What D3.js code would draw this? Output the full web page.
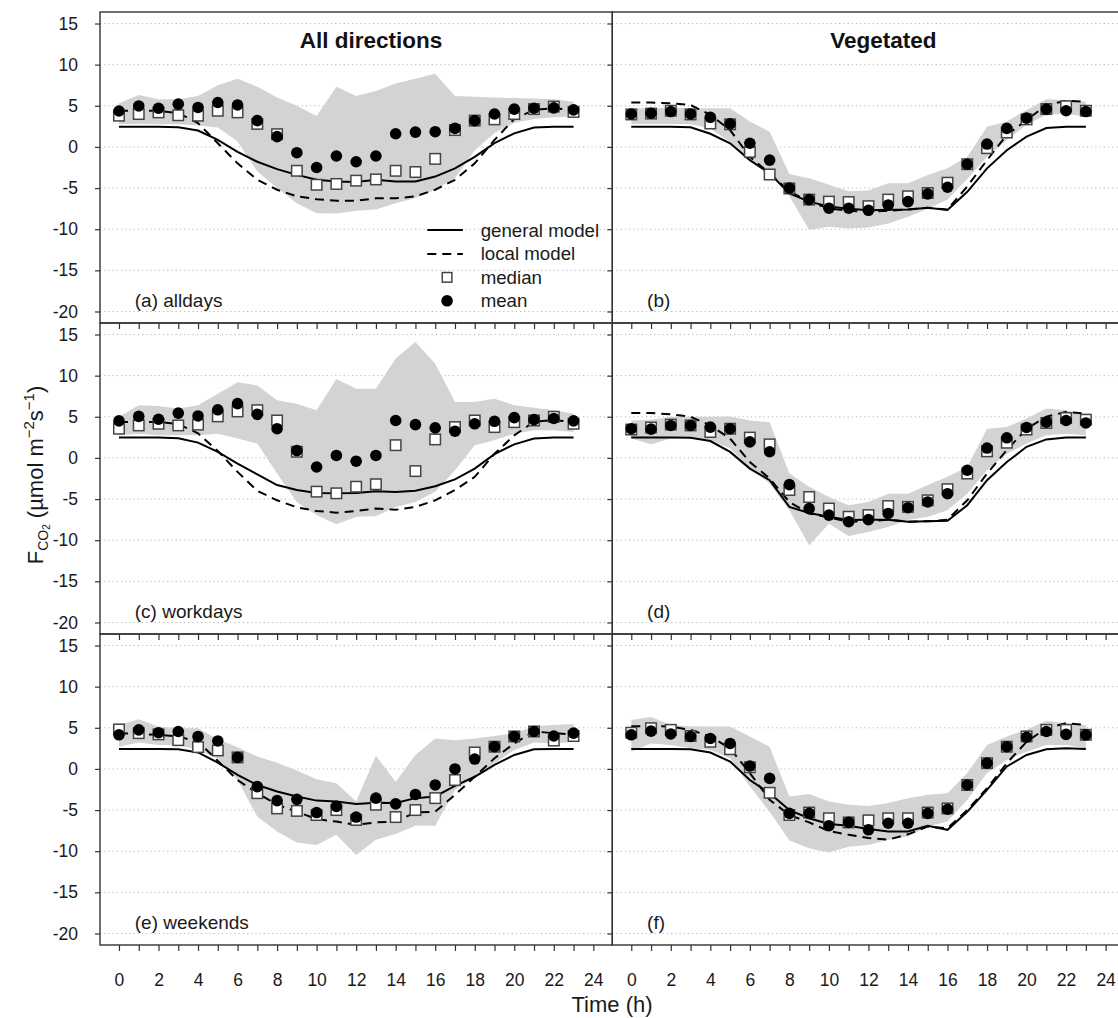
<!DOCTYPE html>
<html lang="en">
<head>
<meta charset="UTF-8">
<title>FCO2 diurnal cycles</title>
<script src="https://d3js.org/d3.v7.min.js"></script>
<style>
  body { margin: 0; background: #fff; }
  svg { display: block; font-family: "Liberation Sans", Arial, sans-serif; }
  .grid line { stroke: #b8b8b8; stroke-width: 1; stroke-dasharray: 1.2,3; }
  .axis line { stroke: #333; stroke-width: 1.2; }
  .axis text { font-size: 17.5px; fill: #1a1a1a; }
  .frame { fill: none; stroke: #333; stroke-width: 1.4; }
  .band { fill: #d3d3d3; }
  .general { fill: none; stroke: #000; stroke-width: 2; }
  .local { fill: none; stroke: #000; stroke-width: 2; stroke-dasharray: 9,6; }
  .median { fill: #fff; stroke: #444; stroke-width: 1.5; }
  .mean { fill: #000; }
</style>
</head>
<body>
<svg id="chart" width="1118" height="1018"></svg>
<script>
const hours = d3.range(24);
const xTicks = d3.range(0, 25);
const yTicks = [-20, -15, -10, -5, 0, 5, 10, 15];
const columnTitles = ["All directions", "Vegetated"];
const panelLabels = ["(a) alldays", "(b)", "(c) workdays", "(d)", "(e) weekends", "(f)"];
const legendLabels = ["general model", "local model", "median", "mean"];

// (a) all directions, all days
const aGeneral = [2.45,2.45,2.45,2.4,2.0,0.85,-0.6,-1.8,-2.7,-3.4,-4.0,-4.2,-4.25,-4.0,-4.2,-4.2,-3.6,-2.6,-1.2,0.45,1.65,2.35,2.45,2.45];
const aLocal   = [4.4,4.4,4.4,4.1,2.9,0.45,-2.0,-4.0,-5.2,-6.0,-6.35,-6.55,-6.55,-6.25,-6.25,-6.0,-5.2,-4.0,-2.0,0.85,3.4,4.5,4.7,4.5];
const aMedian  = [3.8,4.0,4.2,3.85,3.8,4.4,4.2,2.8,1.55,-2.9,-4.6,-4.5,-4.1,-3.95,-2.9,-3.05,-1.45,2.05,3.2,3.35,4.0,4.6,4.9,4.25];
const aMean    = [4.37,4.98,4.7,5.2,4.8,5.4,5.1,3.2,1.25,-0.7,-2.5,-1.1,-1.8,-1.1,1.6,1.8,1.85,2.25,3.2,4.0,4.6,4.7,4.75,4.5];
const aHi      = [5.3,6.3,5.8,5.8,6.2,7.5,8.3,7.3,6.0,5.0,3.75,7.3,6.2,6.8,7.7,8.3,8.9,6.2,6.1,6.0,5.95,5.9,5.8,5.5];
const aLo      = [2.8,2.8,2.75,2.75,2.6,2.35,0.65,-3.0,-5.0,-6.85,-8.05,-8.1,-7.75,-7.6,-6.85,-6.2,-5.2,-3.8,-0.4,1.7,2.95,3.4,3.6,3.7];

// (b) vegetated, all days
const bGeneral = [2.45,2.45,2.45,2.4,1.6,0.45,-1.6,-3.2,-5.65,-6.65,-7.25,-7.5,-7.7,-7.65,-7.6,-7.4,-7.65,-5.45,-2.6,-0.4,1.25,2.3,2.45,2.45];
const bLocal   = [5.4,5.4,5.3,5.1,3.9,2.05,-1.2,-3.2,-5.4,-6.65,-7.5,-7.75,-7.9,-7.75,-7.6,-7.4,-7.6,-4.8,-1.6,1.45,3.25,5.1,5.6,5.5];
const bMedian  = [3.95,4.05,4.4,3.95,2.85,2.75,-0.6,-3.35,-5.05,-6.4,-6.65,-6.7,-7.2,-6.4,-6.0,-5.6,-4.35,-2.1,-0.15,1.75,3.35,4.6,4.95,4.4];
const bMean    = [4.0,4.1,4.3,4.0,3.6,2.8,0.45,-1.6,-5.0,-6.4,-7.45,-7.45,-7.7,-7.05,-6.65,-5.7,-4.9,-2.1,0.35,2.25,3.5,4.6,4.4,4.3];
const bHi      = [4.7,4.7,4.8,4.7,4.7,4.7,3.1,1.85,-3.3,-3.8,-4.6,-5.4,-5.3,-4.4,-4.4,-3.4,-2.6,-1.2,2.45,3.1,4.5,5.8,5.7,5.5];
const bLo      = [2.8,2.8,2.8,2.8,2.2,0.6,-1.4,-3.2,-6.0,-10.1,-9.7,-9.9,-9.8,-9.3,-8.5,-7.5,-6.4,-3.9,-1.2,0.85,2.7,3.9,4.0,3.7];

// (c) all directions, workdays
const cGeneral = [2.47,2.47,2.47,2.4,1.86,0.73,-0.7,-2.0,-3.3,-3.9,-4.25,-4.3,-4.25,-4.05,-4.15,-4.0,-3.45,-2.6,-1.3,0.45,1.65,2.35,2.47,2.47];
const cLocal   = [4.37,4.37,4.37,4.1,3.0,0.85,-1.7,-4.0,-5.15,-6.0,-6.45,-6.65,-6.45,-6.15,-6.3,-5.95,-5.15,-3.9,-2.3,0.5,2.75,4.4,4.6,4.4];
const cMedian  = [3.55,3.95,4.15,3.95,4.05,5.05,5.65,5.8,4.55,0.75,-4.1,-4.3,-3.5,-3.2,1.55,-1.6,2.25,3.75,4.55,3.75,4.35,4.55,5.0,4.15];
const cMean    = [4.5,5.05,4.7,5.45,5.1,5.85,6.6,5.3,3.55,0.9,-1.1,0.3,-0.4,0.3,4.55,4.05,3.65,3.25,4.15,4.45,4.9,4.65,4.8,4.5];
const cHi      = [5.0,6.4,6.3,6.0,6.4,7.8,9.2,8.8,7.0,6.6,5.8,9.6,8.4,8.4,12.1,14.1,11.45,6.8,6.8,7.2,6.4,6.1,5.8,5.4];
const cLo      = [2.75,2.95,2.75,2.75,2.75,2.95,2.35,1.75,-1.9,-5.35,-6.95,-8.05,-7.15,-7.1,-5.95,-5.35,-4.1,-1.5,1.55,2.15,2.95,3.35,3.35,3.15];

// (d) vegetated, workdays
const dGeneral = [2.47,2.47,2.47,2.45,2.05,0.73,-1.3,-2.7,-5.95,-6.7,-7.15,-7.55,-7.5,-7.5,-7.75,-7.7,-7.65,-5.75,-2.7,-0.5,1.35,2.25,2.47,2.47];
const dLocal   = [5.45,5.45,5.3,5.0,3.95,2.35,-0.5,-2.5,-5.35,-6.75,-7.25,-7.75,-7.7,-7.5,-7.75,-7.7,-7.5,-5.15,-1.9,0.95,3.55,5.0,5.6,5.4];
const dMedian  = [3.45,3.7,4.05,3.95,3.15,3.55,2.47,1.65,-3.9,-4.75,-6.15,-7.15,-6.95,-5.85,-5.95,-5.15,-3.8,-1.9,0.8,1.85,3.45,4.25,4.85,4.65];
const dMean    = [3.55,3.5,3.95,3.95,3.75,3.55,1.95,0.75,-3.25,-6.15,-6.95,-7.75,-7.5,-6.75,-6.05,-5.35,-4.35,-1.5,1.2,2.45,3.7,4.35,4.55,4.25];
const dHi      = [4.55,4.65,5.0,5.0,5.0,5.05,4.55,4.35,-1.9,-3.5,-4.75,-5.75,-5.35,-4.35,-4.35,-3.3,-2.3,-1.1,3.55,3.75,4.8,6.0,5.8,5.2];
const dLo      = [2.35,1.65,2.35,2.55,2.15,1.15,-1.3,-3.1,-6.35,-10.6,-8.0,-9.5,-9.0,-8.4,-7.55,-7.15,-6.35,-4.35,-1.5,0.5,1.75,2.75,2.95,2.75];

// (e) all directions, weekends
const eGeneral = [2.43,2.43,2.43,2.4,2.0,0.77,-0.73,-1.95,-2.75,-3.35,-3.85,-3.95,-4.25,-4.1,-4.15,-3.55,-3.35,-2.05,-0.95,0.5,1.7,2.4,2.43,2.43];
const eLocal   = [4.35,4.25,4.15,3.95,3.3,1.0,-1.35,-2.95,-4.35,-5.2,-6.1,-6.4,-6.8,-6.5,-6.4,-5.3,-5.2,-3.15,-0.95,1.3,3.1,4.55,4.35,4.15];
const eMedian  = [4.8,4.35,4.2,3.5,2.65,2.25,1.4,-2.95,-4.8,-5.1,-5.6,-5.0,-6.2,-4.35,-5.85,-5.0,-3.55,-1.35,2.0,2.7,3.95,4.55,3.45,4.0];
const eMean    = [4.15,4.75,4.4,4.55,3.95,3.4,1.4,-2.15,-3.85,-3.7,-5.3,-4.55,-5.85,-3.55,-4.25,-3.1,-1.95,0.0,1.2,2.7,3.95,4.55,4.0,4.35];
const eHi      = [5.35,6.05,5.15,4.95,4.95,3.6,2.65,1.5,0.75,-0.2,-1.25,-1.75,-3.95,1.6,-1.55,1.7,3.7,3.5,3.7,4.0,4.35,5.2,5.35,5.45];
const eLo      = [2.7,3.2,2.9,2.9,2.3,1.3,-1.35,-5.8,-7.6,-8.95,-9.25,-8.0,-10.45,-8.6,-7.9,-6.9,-6.9,-2.55,-0.95,0.7,2.3,3.2,3.1,3.3];

// (f) vegetated, weekends
const fGeneral = [2.43,2.43,2.43,2.4,2.0,0.9,-1.35,-2.95,-5.0,-6.0,-6.7,-6.9,-7.3,-7.6,-7.6,-6.9,-7.4,-5.2,-2.55,0.3,1.7,2.4,2.5,2.43];
const fLocal   = [5.2,5.2,5.15,4.75,3.95,2.5,-0.5,-3.75,-5.6,-6.5,-7.55,-8.0,-8.4,-8.6,-7.95,-7.0,-7.2,-5.0,-2.35,0.7,3.3,4.95,5.55,5.35];
const fMedian  = [4.4,4.95,4.75,4.0,3.3,2.4,0.2,-2.9,-5.6,-5.3,-6.0,-6.5,-6.25,-6.0,-6.0,-5.3,-4.8,-1.95,0.7,2.7,3.95,4.75,4.75,4.15];
const fMean    = [4.15,4.6,4.25,3.95,3.7,3.1,0.35,-1.15,-5.4,-5.4,-6.9,-6.5,-7.4,-6.6,-6.6,-5.4,-4.9,-1.95,0.7,2.7,3.85,4.55,4.2,4.15];
const fHi      = [5.95,6.3,5.35,5.2,5.15,5.15,3.95,2.7,-3.35,-3.05,-3.95,-4.35,-4.5,-4.15,-3.55,-3.15,-2.95,-0.5,2.9,3.95,4.8,5.85,5.55,5.35];
const fLo      = [2.1,3.1,2.9,2.5,2.3,1.3,-2.15,-5.2,-8.7,-9.65,-10.15,-9.45,-9.25,-8.6,-8.2,-7.0,-6.4,-3.75,-0.5,1.1,2.1,2.9,2.9,2.5];

const panels = [
  { row: 0, col: 0, general: aGeneral, local: aLocal, median: aMedian, mean: aMean, hi: aHi, lo: aLo },
  { row: 0, col: 1, general: bGeneral, local: bLocal, median: bMedian, mean: bMean, hi: bHi, lo: bLo },
  { row: 1, col: 0, general: cGeneral, local: cLocal, median: cMedian, mean: cMean, hi: cHi, lo: cLo },
  { row: 1, col: 1, general: dGeneral, local: dLocal, median: dMedian, mean: dMean, hi: dHi, lo: dLo },
  { row: 2, col: 0, general: eGeneral, local: eLocal, median: eMedian, mean: eMean, hi: eHi, lo: eLo },
  { row: 2, col: 1, general: fGeneral, local: fLocal, median: fMedian, mean: fMean, hi: fHi, lo: fLo }
];

// layout (R style: axes padded by 4%)
const colX = [[100, 612.3], [612.3, 1124.6]];
const rowY = [[12, 323], [323, 634], [634, 945]];
const xDom = [-0.96, 24.96], yDom = [-21.4, 16.4];
const sq = 10.5, rDot = 5.8;

const svg = d3.select('#chart');
const xs = colX.map(r => d3.scaleLinear().domain(xDom).range(r));
const ys = rowY.map(r => d3.scaleLinear().domain(yDom).range([r[1], r[0]]));

panels.forEach((p, i) => {
  const x = xs[p.col], y = ys[p.row];
  const g = svg.append('g');
  const [x0, x1] = x.range();
  const [yb, yt] = y.range();

  g.append('g').attr('class', 'grid').selectAll('line').data(yTicks).join('line')
    .attr('x1', x0).attr('x2', x1).attr('y1', d => y(d)).attr('y2', d => y(d));

  g.append('path').attr('class', 'band')
    .attr('d', d3.area().x(h => x(h)).y0(h => y(p.lo[h])).y1(h => y(p.hi[h]))(hours));
  g.append('path').attr('class', 'general')
    .attr('d', d3.line().x(h => x(h)).y(h => y(p.general[h]))(hours));
  g.append('path').attr('class', 'local')
    .attr('d', d3.line().x(h => x(h)).y(h => y(p.local[h]))(hours));

  g.selectAll('rect.median').data(hours).join('rect').attr('class', 'median')
    .attr('x', h => x(h) - sq / 2).attr('y', h => y(p.median[h]) - sq / 2)
    .attr('width', sq).attr('height', sq);
  g.selectAll('circle.mean').data(hours).join('circle').attr('class', 'mean')
    .attr('cx', h => x(h)).attr('cy', h => y(p.mean[h])).attr('r', rDot);

  // y axis (labels only on the left column)
  const ya = g.append('g').attr('class', 'axis').attr('transform', `translate(${x0},0)`)
    .call(d3.axisLeft(y).tickValues(yTicks).tickSize(5).tickPadding(17)
      .tickFormat(p.col === 0 ? d => String(d) : () => ''));
  ya.select('.domain').remove();

  // x axis, ticks every hour, labels on the bottom row
  const xa = g.append('g').attr('class', 'axis').attr('transform', `translate(0,${yb})`)
    .call(d3.axisBottom(x).tickValues(xTicks).tickSize(6).tickPadding(23)
      .tickFormat(d => (p.row === 2 && d % 2 === 0) ? String(d) : ''));
  xa.select('.domain').remove();

  g.append('rect').attr('class', 'frame')
    .attr('x', x0).attr('y', yt).attr('width', x1 - x0).attr('height', yb - yt);

  g.append('text').attr('x', x(0.8)).attr('y', y(-19.5))
    .attr('font-size', 19).attr('fill', '#1a1a1a').text(panelLabels[i]);

  if (p.row === 0) {
    g.append('text').attr('x', x(12.75)).attr('y', y(12))
      .attr('text-anchor', 'middle').attr('font-size', 22.5).attr('font-weight', 'bold')
      .attr('fill', '#111').text(columnTitles[p.col]);
  }
});

// legend in panel (a)
const lx = xs[0], ly = ys[0];
const legRows = [-10.1, -13.0, -15.85, -18.7];
const leg = svg.append('g');
leg.append('line').attr('class', 'general')
  .attr('x1', lx(15.6)).attr('x2', lx(17.4)).attr('y1', ly(legRows[0])).attr('y2', ly(legRows[0]));
leg.append('line').attr('class', 'local').attr('stroke-dasharray', '9,8')
  .attr('x1', lx(15.6)).attr('x2', lx(17.4)).attr('y1', ly(legRows[1])).attr('y2', ly(legRows[1]));
leg.append('rect').attr('class', 'median')
  .attr('x', lx(16.6) - 4.8).attr('y', ly(legRows[2]) - 4.8).attr('width', 9.6).attr('height', 9.6);
leg.append('circle').attr('class', 'mean')
  .attr('cx', lx(16.6)).attr('cy', ly(legRows[3])).attr('r', rDot);
leg.selectAll('text').data(legendLabels).join('text')
  .attr('x', lx(18.3)).attr('y', (d, i) => ly(legRows[i])).attr('dy', '0.35em')
  .attr('font-size', 18.7).attr('fill', '#1a1a1a').text(d => d);

// axis titles
svg.append('text').attr('x', 612).attr('y', 1012).attr('text-anchor', 'middle')
  .attr('font-size', 22).attr('fill', '#1a1a1a').text('Time (h)');

const yt = svg.append('text').attr('transform', 'translate(43,475) rotate(-90)')
  .attr('text-anchor', 'middle').attr('font-size', 22).attr('fill', '#1a1a1a');
yt.append('tspan').text('F');
yt.append('tspan').attr('font-size', 14).attr('dy', 5).text('CO');
yt.append('tspan').attr('font-size', 10).attr('dy', 2).text('2');
yt.append('tspan').attr('font-size', 22).attr('dy', -7).text(' (\u00b5mol m');
yt.append('tspan').attr('font-size', 15).attr('dy', -9).text('\u22122');
yt.append('tspan').attr('font-size', 22).attr('dy', 9).text('s');
yt.append('tspan').attr('font-size', 15).attr('dy', -9).text('\u22121');
yt.append('tspan').attr('font-size', 22).attr('dy', 9).text(')');
</script>
</body>
</html>
